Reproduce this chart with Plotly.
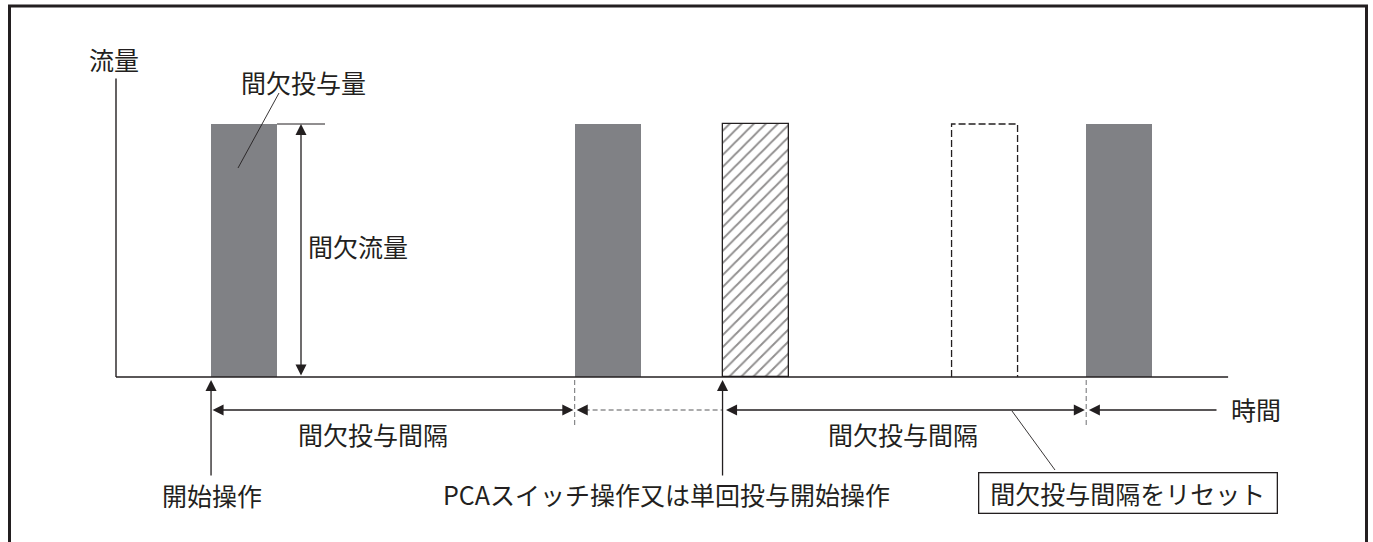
import plotly.graph_objects as go

W, H = 1373, 542

# time in units of one dose width, flow in units of the intermittent flow
dose_starts = [1.44, 6.95, 14.70]      # 間欠投与 (gray bars)
bolus_start = 9.19                     # PCAスイッチ / 単回投与 (hatched bar)
skipped_start = 12.66                  # cancelled intermittent dose (dashed bar)
dose_width = 1.0
dose_flow = 1.0
axis_top = 1.18
time_end = 16.85

labels = {
    "flow": "流量",
    "time": "時間",
    "dose_amount": "間欠投与量",
    "dose_flow": "間欠流量",
    "interval": "間欠投与間隔",
    "start": "開始操作",
    "pca": "PCAスイッチ操作又は単回投与開始操作",
    "reset": "間欠投与間隔をリセット",
}

INK = "#231F20"
GRAY = "#808185"
FONT = "Noto Sans CJK JP"

# pixel scale of the drawing (origin of the axes at px 116 / 377)
X0, PX = 116, 66
Y0, PY = 377, 253


def dx(px):
    return (px - X0) / PX


def dy(py):
    return (Y0 - py) / PY


arrow_y = dy(410)
op_tail = dy(477)
tip = dy(380)
guide_bottom = dy(425)

fig = go.Figure()

# gray intermittent doses
fig.add_trace(go.Bar(x=dose_starts, y=[dose_flow] * len(dose_starts),
                     width=dose_width, offset=0,
                     marker=dict(color=GRAY, line=dict(width=0))))
# hatched bolus
fig.add_trace(go.Bar(x=[bolus_start], y=[dose_flow], width=dose_width, offset=0,
                     marker=dict(color="white",
                                 line=dict(color=INK, width=1.3),
                                 pattern=dict(shape="/", fgcolor=INK, bgcolor="white",
                                              size=8.5, solidity=0.22))))
# dashed (skipped) dose
fig.add_trace(go.Scatter(x=[skipped_start, skipped_start, skipped_start + dose_width,
                            skipped_start + dose_width],
                         y=[0, dose_flow, dose_flow, 0], mode="lines",
                         line=dict(color=INK, width=1.3, dash="7px,3px")))

# axes
fig.add_trace(go.Scatter(x=[0, 0, None, 0, time_end], y=[axis_top, 0, None, 0, 0],
                         mode="lines", line=dict(color=INK, width=1.4)))
# top extension line at the first dose
fig.add_trace(go.Scatter(x=[dose_starts[0] + dose_width, dx(325)], y=[dose_flow, dose_flow],
                         mode="lines", line=dict(color=INK, width=1)))
# dashed guides below the axis
for t in dose_starts[1:]:
    fig.add_trace(go.Scatter(x=[t, t], y=[tip, guide_bottom], mode="lines",
                             line=dict(color="#6d6e71", width=1, dash="5px,3px")))
fig.add_trace(go.Scatter(x=[dose_starts[1] + 0.15, bolus_start], y=[arrow_y, arrow_y],
                         mode="lines", line=dict(color="#58595b", width=1.2, dash="5px,3px")))
# leader lines
fig.add_trace(go.Scatter(x=[dx(279), dx(238)], y=[dy(93), dy(168)], mode="lines",
                         line=dict(color=INK, width=0.9)))
fig.add_trace(go.Scatter(x=[dx(1012), dx(1055)], y=[dy(411), dy(470)], mode="lines",
                         line=dict(color=INK, width=0.9)))

arrow = dict(showarrow=True, text="", xref="x", yref="y", axref="x", ayref="y",
             arrowhead=2, startarrowhead=2, arrowsize=1.7, startarrowsize=1.7,
             arrowwidth=1.3, arrowcolor=INK, standoff=0, startstandoff=0)

anns = [
    # intermittent flow (double)
    dict(x=dx(301), y=dose_flow, ax=dx(301), ay=0, arrowside="end+start"),
    # start operation
    dict(x=dose_starts[0], y=tip, ax=dose_starts[0], ay=op_tail),
    # PCA operation
    dict(x=bolus_start, y=tip, ax=bolus_start, ay=op_tail),
    # interval 1
    dict(x=dose_starts[1] - 0.02, y=arrow_y, ax=dose_starts[0], ay=arrow_y,
         arrowside="end+start"),
    # dashed part head
    dict(x=dose_starts[1] + 0.03, y=arrow_y, ax=dose_starts[1] + 0.2, ay=arrow_y),
    # interval 2
    dict(x=dose_starts[2] - 0.02, y=arrow_y, ax=bolus_start + 0.03, ay=arrow_y,
         arrowside="end+start"),
    # time axis arrow
    dict(x=dose_starts[2] + 0.04, y=arrow_y, ax=dx(1218), ay=arrow_y),
]
annotations = [dict(arrow, **a) for a in anns]


def label(text, px, py, size=25, xanchor="center", **kw):
    return dict(text=text, x=dx(px), y=dy(py), xref="x", yref="y", showarrow=False,
                xanchor=xanchor, yanchor="middle",
                font=dict(family=FONT, size=size, color=INK), **kw)


annotations += [
    label(labels["flow"], 114, 59),
    label(labels["dose_amount"], 303, 82),
    label(labels["dose_flow"], 306, 246, xanchor="left"),
    label(labels["interval"], 373, 434),
    label(labels["start"], 212, 495),
    label(labels["pca"], 666, 494),
    label(labels["interval"], 903, 434),
    label(labels["time"], 1256, 409),
    label(labels["reset"], 1128, 493, width=293, height=35, borderpad=2,
          bordercolor=INK, borderwidth=1.3, bgcolor="white"),
]

# outer frame
shapes = [dict(type="rect", xref="paper", yref="paper", x0=9.5 / W, x1=1366.5 / W,
               y0=-0.05, y1=1 - 6 / H, line=dict(color=INK, width=3))]

fig.update_layout(
    width=W, height=H, margin=dict(l=0, r=0, t=0, b=0),
    paper_bgcolor="white", plot_bgcolor="white", showlegend=False,
    barmode="overlay", bargap=0,
    xaxis=dict(range=[dx(0), dx(W)], visible=False, fixedrange=True),
    yaxis=dict(range=[dy(H), dy(0)], visible=False, fixedrange=True),
    annotations=annotations, shapes=shapes,
)

fig.write_html("out.html", config={"displayModeBar": False},
               post_script="document.body.style.margin = '0';")
